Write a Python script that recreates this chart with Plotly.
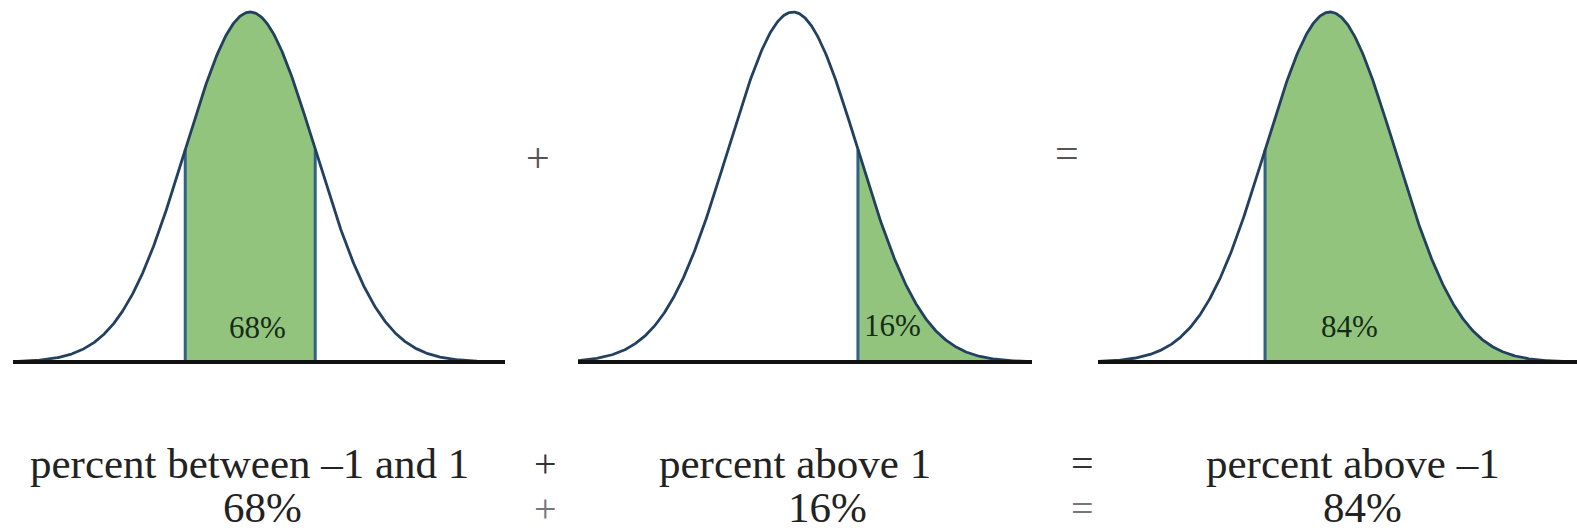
import numpy as np
import plotly.graph_objects as go

# Standard normal curve, shown three times: between -1 and 1, above 1, above -1
mean = 0.0
sd = 1.0
shade_lo = [-1.0, 1.0, -1.0]
shade_hi = [1.0, None, None]          # None -> shade to the right end of the axis
inner_labels = ["68%", "16%", "84%"]
captions = ["percent between \u20131 and 1", "percent above 1", "percent above \u20131"]
caption_values = ["68%", "16%", "84%"]
operators = ["+", "="]

# axis windows (in standard deviations) for each panel
x_ranges = [(-3.65, 3.92), (-3.31, 3.68), (-3.57, 3.80)]
x_domains = [(13 / 1577, 505 / 1577), (578 / 1577, 1032 / 1577), (1098 / 1577, 1.0)]

W, H = 1577, 532
peak = 1 / (sd * np.sqrt(2 * np.pi))
y_range = (-peak * 170 / 350, peak * 362 / 350)

GREEN = "rgb(147,196,125)"
CURVE = "#22405f"
EDGE = "#2f6285"
BASE = "#111111"


def pdf(x):
    return np.exp(-0.5 * ((x - mean) / sd) ** 2) / (sd * np.sqrt(2 * np.pi))


fig = go.Figure()

for i in range(3):
    xa = "x" if i == 0 else f"x{i + 1}"
    lo_r, hi_r = x_ranges[i]
    xs = np.linspace(lo_r, hi_r, 600)

    a = shade_lo[i]
    b = shade_hi[i] if shade_hi[i] is not None else hi_r
    xf = np.linspace(a, b, 300)
    fig.add_trace(go.Scatter(x=xf, y=pdf(xf), xaxis=xa, yaxis="y", mode="lines",
                             line=dict(width=0, color=GREEN), fill="tozeroy",
                             fillcolor=GREEN, hoverinfo="skip", showlegend=False))

    # edges of the shaded area
    for e in [shade_lo[i], shade_hi[i]]:
        if e is None:
            continue
        fig.add_trace(go.Scatter(x=[e, e], y=[0, pdf(e)], xaxis=xa, yaxis="y",
                                 mode="lines", line=dict(width=3, color=EDGE),
                                 hoverinfo="skip", showlegend=False))

    # density curve
    fig.add_trace(go.Scatter(x=xs, y=pdf(xs), xaxis=xa, yaxis="y", mode="lines",
                             line=dict(width=2.8, color=CURVE),
                             hoverinfo="skip", showlegend=False))

    # horizontal axis line
    fig.add_trace(go.Scatter(x=[lo_r, hi_r], y=[0, 0], xaxis=xa, yaxis="y",
                             mode="lines", line=dict(width=4, color=BASE),
                             hoverinfo="skip", showlegend=False))

axis_common = dict(showgrid=False, zeroline=False, showticklabels=False,
                   ticks="", showline=False, fixedrange=True)
layout = dict(
    width=W, height=H,
    margin=dict(l=0, r=0, t=0, b=0),
    paper_bgcolor="white", plot_bgcolor="rgba(0,0,0,0)",
    yaxis=dict(range=list(y_range), domain=[0, 1], **axis_common),
)
for i in range(3):
    key = "xaxis" if i == 0 else f"xaxis{i + 1}"
    layout[key] = dict(range=list(x_ranges[i]), domain=list(x_domains[i]),
                       anchor="y", **axis_common)
fig.update_layout(**layout)

ann = []
serif = "Liberation Serif, Times New Roman, serif"

# percentages inside the shaded areas
inner_pos = [(257, 327, "center"), (862, 325, "left"), (1349, 326, "center")]
for i, (px, py, anc) in enumerate(inner_pos):
    ann.append(dict(x=px / W, y=1 - py / H, xref="paper", yref="paper",
                    text=inner_labels[i], showarrow=False, xanchor=anc, yanchor="middle",
                    font=dict(family=serif, size=31, color="#142c17")))

# operators between the curves
for txt, px, py in [(operators[0], 538, 158), (operators[1], 1067, 153)]:
    ann.append(dict(x=px / W, y=1 - py / H, xref="paper", yref="paper", text=txt,
                    showarrow=False, xanchor="center", yanchor="middle",
                    font=dict(family=serif, size=42, color="#555555")))

# caption rows: wording on top, value underneath (bottom row sits on the page edge)
cap_x = [249, 795, 1353]
val_x = [262, 827, 1362]
for i in range(3):
    ann.append(dict(x=cap_x[i] / W, y=1 - 463 / H, xref="paper", yref="paper",
                    text=captions[i], showarrow=False, xanchor="center", yanchor="middle",
                    font=dict(family=serif, size=43, color="#222222")))
    ann.append(dict(x=val_x[i] / W, y=0, xref="paper", yref="paper",
                    text=caption_values[i], showarrow=False, xanchor="center",
                    yanchor="bottom", borderpad=0,
                    font=dict(family=serif, size=43, color="#222222")))
for txt, px in [(operators[0], 545), (operators[1], 1082)]:
    ann.append(dict(x=px / W, y=1 - 463 / H, xref="paper", yref="paper", text=txt,
                    showarrow=False, xanchor="center", yanchor="middle",
                    font=dict(family=serif, size=40, color="#333333")))
    ann.append(dict(x=px / W, y=0, xref="paper", yref="paper", text=txt,
                    showarrow=False, xanchor="center", yanchor="bottom", borderpad=0,
                    font=dict(family=serif, size=40, color="#777777")))

fig.update_layout(annotations=ann)
fig.write_html("out.html", config={"displayModeBar": False})
